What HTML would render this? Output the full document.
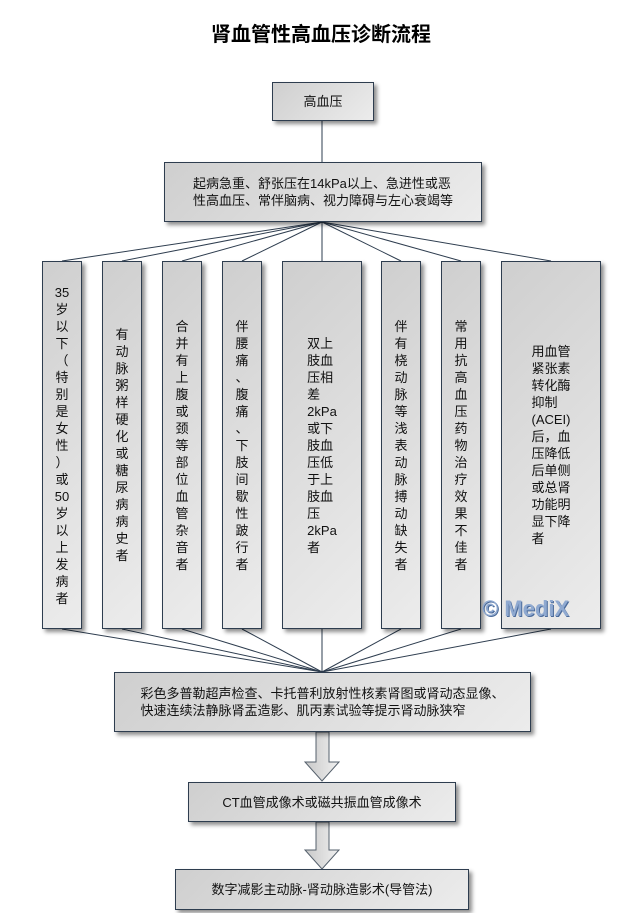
<!DOCTYPE html>
<html><head><meta charset="utf-8"><style>
body{margin:0;width:642px;height:913px;background:#fff;position:relative;overflow:hidden;font-family:"Liberation Sans","Noto Sans CJK SC",sans-serif;}
.t{position:absolute;left:0;width:642px;top:18px;text-align:center;font-size:20px;font-weight:bold;color:#000;font-family:"Liberation Sans","Noto Sans CJK SC",sans-serif;}
.b{position:absolute;box-sizing:border-box;border:1px solid #2e3d4f;background:linear-gradient(135deg,#cfcfcf,#ececec);box-shadow:3px 3px 4px rgba(0,0,0,0.45);display:flex;align-items:center;justify-content:center;font-size:13px;line-height:17px;color:#111;}
.b span{display:inline-block;text-align:left;}
.c span{width:1em;text-align:center}
svg{position:absolute;left:0;top:0}
.w{position:absolute;left:482px;top:596px;font:bold 22px "Liberation Sans",sans-serif;color:#8fa9d0;text-shadow:1px 1px 0 #4a6a9a;}
</style></head><body>
<div class="t">肾血管性高血压诊断流程</div>
<svg width="642" height="913">
<g stroke="#2e3d4f" stroke-width="1" fill="none">
<line x1="322" y1="121" x2="322" y2="162"/>
<line x1="322" y1="222" x2="62" y2="261"/><line x1="322" y1="222" x2="122" y2="261"/><line x1="322" y1="222" x2="182" y2="261"/><line x1="322" y1="222" x2="242" y2="261"/><line x1="322" y1="222" x2="322" y2="261"/><line x1="322" y1="222" x2="401" y2="261"/><line x1="322" y1="222" x2="461" y2="261"/><line x1="322" y1="222" x2="551" y2="261"/>
<line x1="322" y1="672" x2="62" y2="629"/><line x1="322" y1="672" x2="122" y2="629"/><line x1="322" y1="672" x2="182" y2="629"/><line x1="322" y1="672" x2="242" y2="629"/><line x1="322" y1="672" x2="322" y2="629"/><line x1="322" y1="672" x2="401" y2="629"/><line x1="322" y1="672" x2="461" y2="629"/><line x1="322" y1="672" x2="551" y2="629"/>
</g>
<defs><linearGradient id="g" x1="0" x2="1"><stop offset="0" stop-color="#c8c8c8"/><stop offset="1" stop-color="#f0f0f0"/></linearGradient></defs>
<polygon points="316,732 329,732 329,762 339,762 322,781 305,762 316,762" fill="url(#g)" stroke="#55606c"/>
<polygon points="316,822 329,822 329,850 339,850 322,869 305,850 316,850" fill="url(#g)" stroke="#55606c"/>
</svg>
<div class="b" style="left:272px;top:82px;width:102px;height:39px">高血压</div>
<div class="b" style="left:164px;top:162px;width:318px;height:60px"><span>起病急重、舒张压在14kPa以上、急进性或恶<br>性高血压、常伴脑病、视力障碍与左心衰竭等</span></div>
<div class="b" style="left:42px;top:261px;width:40px;height:368px"><span style="text-align:center">35<br>岁<br>以<br>下<br>（<br>特<br>别<br>是<br>女<br>性<br>）<br>或<br>50<br>岁<br>以<br>上<br>发<br>病<br>者</span></div>
<div class="b c" style="left:102px;top:261px;width:40px;height:368px"><span>有<br>动<br>脉<br>粥<br>样<br>硬<br>化<br>或<br>糖<br>尿<br>病<br>病<br>史<br>者</span></div>
<div class="b c" style="left:162px;top:261px;width:40px;height:368px"><span>合<br>并<br>有<br>上<br>腹<br>或<br>颈<br>等<br>部<br>位<br>血<br>管<br>杂<br>音<br>者</span></div>
<div class="b c" style="left:222px;top:261px;width:40px;height:368px"><span>伴<br>腰<br>痛<br>、<br>腹<br>痛<br>、<br>下<br>肢<br>间<br>歇<br>性<br>跛<br>行<br>者</span></div>
<div class="b" style="left:282px;top:261px;width:80px;height:368px"><span>双上<br>肢血<br>压相<br>差<br>2kPa<br>或下<br>肢血<br>压低<br>于上<br>肢血<br>压<br>2kPa<br>者</span></div>
<div class="b c" style="left:381px;top:261px;width:40px;height:368px"><span>伴<br>有<br>桡<br>动<br>脉<br>等<br>浅<br>表<br>动<br>脉<br>搏<br>动<br>缺<br>失<br>者</span></div>
<div class="b c" style="left:441px;top:261px;width:40px;height:368px"><span>常<br>用<br>抗<br>高<br>血<br>压<br>药<br>物<br>治<br>疗<br>效<br>果<br>不<br>佳<br>者</span></div>
<div class="b" style="left:501px;top:261px;width:100px;height:368px"><span>用血管<br>紧张素<br>转化酶<br>抑制<br>(ACEI)<br>后，血<br>压降低<br>后单侧<br>或总肾<br>功能明<br>显下降<br>者</span></div>
<div class="w">© MediX</div>
<div class="b" style="left:114px;top:672px;width:417px;height:60px"><span>彩色多普勒超声检查、卡托普利放射性核素肾图或肾动态显像、<br>快速连续法静脉肾盂造影、肌丙素试验等提示肾动脉狭窄</span></div>
<div class="b" style="left:188px;top:782px;width:268px;height:40px">CT血管成像术或磁共振血管成像术</div>
<div class="b" style="left:175px;top:869px;width:294px;height:41px">数字减影主动脉-肾动脉造影术(导管法)</div>
</body></html>
